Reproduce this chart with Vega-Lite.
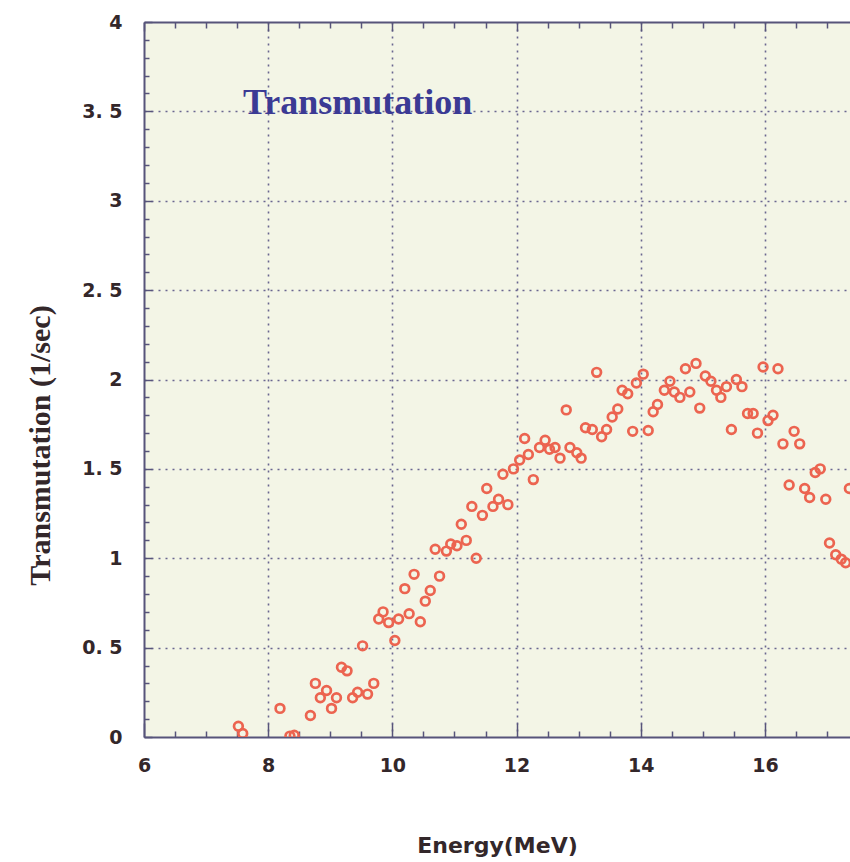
{
  "$schema": "https://vega.github.io/schema/vega-lite/v6.json",
  "autosize": {"type": "none"},
  "padding": {"left": 144, "top": 22, "right": 0, "bottom": 125},
  "width": 706,
  "height": 715,
  "background": "#ffffff",
  "title": {
    "text": "Transmutation",
    "font": "Liberation Serif",
    "fontSize": 36,
    "fontWeight": "bold",
    "color": "#3b3a94",
    "anchor": "start",
    "frame": "group",
    "orient": "top",
    "offset": 0,
    "dx": 99,
    "dy": 137,
    "baseline": "alphabetic"
  },
  "config": {
    "view": {"fill": "#f3f5e6", "stroke": null},
    "axis": {
      "domainColor": "#57547a",
      "domainWidth": 2,
      "tickColor": "#57547a",
      "tickWidth": 1.5,
      "gridColor": "#6a6690",
      "gridWidth": 1.6,
      "gridDash": [2, 5],
      "labelFont": "DejaVu Sans",
      "labelFontWeight": "bold",
      "labelFontSize": 19,
      "labelColor": "#33272a",
      "titleColor": "#33272a"
    }
  },
  "data": {
    "values": [
      {"e": 7.52, "t": 0.06}, {"e": 7.59, "t": 0.02}, {"e": 8.19, "t": 0.16},
      {"e": 8.35, "t": 0.005}, {"e": 8.42, "t": 0.01}, {"e": 8.68, "t": 0.12},
      {"e": 8.76, "t": 0.30}, {"e": 8.84, "t": 0.22}, {"e": 8.94, "t": 0.26},
      {"e": 9.02, "t": 0.16}, {"e": 9.10, "t": 0.22}, {"e": 9.18, "t": 0.39},
      {"e": 9.27, "t": 0.37}, {"e": 9.36, "t": 0.22}, {"e": 9.44, "t": 0.25},
      {"e": 9.52, "t": 0.51}, {"e": 9.60, "t": 0.24}, {"e": 9.70, "t": 0.30},
      {"e": 9.78, "t": 0.66}, {"e": 9.85, "t": 0.70}, {"e": 9.94, "t": 0.64},
      {"e": 10.04, "t": 0.54}, {"e": 10.10, "t": 0.66}, {"e": 10.20, "t": 0.83},
      {"e": 10.27, "t": 0.69}, {"e": 10.35, "t": 0.91}, {"e": 10.45, "t": 0.645},
      {"e": 10.53, "t": 0.76}, {"e": 10.61, "t": 0.82}, {"e": 10.69, "t": 1.05},
      {"e": 10.76, "t": 0.90}, {"e": 10.87, "t": 1.04}, {"e": 10.94, "t": 1.08},
      {"e": 11.04, "t": 1.07}, {"e": 11.11, "t": 1.19}, {"e": 11.19, "t": 1.10},
      {"e": 11.28, "t": 1.29}, {"e": 11.35, "t": 1.00}, {"e": 11.45, "t": 1.24},
      {"e": 11.52, "t": 1.39}, {"e": 11.62, "t": 1.29}, {"e": 11.71, "t": 1.33},
      {"e": 11.78, "t": 1.47}, {"e": 11.86, "t": 1.30}, {"e": 11.95, "t": 1.50},
      {"e": 12.05, "t": 1.55}, {"e": 12.13, "t": 1.67}, {"e": 12.19, "t": 1.58},
      {"e": 12.27, "t": 1.44}, {"e": 12.37, "t": 1.62}, {"e": 12.46, "t": 1.66},
      {"e": 12.53, "t": 1.61}, {"e": 12.62, "t": 1.62}, {"e": 12.70, "t": 1.56},
      {"e": 12.80, "t": 1.83}, {"e": 12.86, "t": 1.62}, {"e": 12.97, "t": 1.59},
      {"e": 13.04, "t": 1.56}, {"e": 13.11, "t": 1.73}, {"e": 13.22, "t": 1.72},
      {"e": 13.29, "t": 2.04}, {"e": 13.37, "t": 1.68}, {"e": 13.45, "t": 1.72},
      {"e": 13.54, "t": 1.79}, {"e": 13.63, "t": 1.835}, {"e": 13.70, "t": 1.94},
      {"e": 13.79, "t": 1.92}, {"e": 13.87, "t": 1.71}, {"e": 13.93, "t": 1.98},
      {"e": 14.04, "t": 2.03}, {"e": 14.12, "t": 1.715}, {"e": 14.20, "t": 1.82},
      {"e": 14.27, "t": 1.86}, {"e": 14.38, "t": 1.94}, {"e": 14.47, "t": 1.99},
      {"e": 14.54, "t": 1.93}, {"e": 14.63, "t": 1.90}, {"e": 14.72, "t": 2.06},
      {"e": 14.79, "t": 1.93}, {"e": 14.89, "t": 2.09}, {"e": 14.95, "t": 1.84},
      {"e": 15.04, "t": 2.02}, {"e": 15.13, "t": 1.99}, {"e": 15.22, "t": 1.94},
      {"e": 15.29, "t": 1.90}, {"e": 15.38, "t": 1.96}, {"e": 15.46, "t": 1.72},
      {"e": 15.54, "t": 2.00}, {"e": 15.63, "t": 1.96}, {"e": 15.72, "t": 1.81},
      {"e": 15.81, "t": 1.81}, {"e": 15.88, "t": 1.70}, {"e": 15.97, "t": 2.07},
      {"e": 16.05, "t": 1.77}, {"e": 16.13, "t": 1.80}, {"e": 16.21, "t": 2.06},
      {"e": 16.29, "t": 1.64}, {"e": 16.39, "t": 1.41}, {"e": 16.47, "t": 1.71},
      {"e": 16.56, "t": 1.64}, {"e": 16.64, "t": 1.39}, {"e": 16.72, "t": 1.34},
      {"e": 16.81, "t": 1.48}, {"e": 16.89, "t": 1.50}, {"e": 16.98, "t": 1.33},
      {"e": 17.04, "t": 1.085}, {"e": 17.14, "t": 1.02}, {"e": 17.23, "t": 0.995},
      {"e": 17.30, "t": 0.975}, {"e": 17.36, "t": 1.39}
    ]
  },
  "encoding": {
    "y": {
      "field": "t",
      "type": "quantitative",
      "scale": {"domain": [0, 4], "nice": false, "zero": false},
      "axis": {
        "orient": "left",
        "title": "Transmutation (1/sec)",
        "titleFont": "Liberation Serif",
        "titleFontSize": 30,
        "titleFontWeight": "bold",
        "titlePadding": 26,
        "titleY": 423,
        "values": [0, 0.1, 0.2, 0.3, 0.4, 0.5, 0.6, 0.7, 0.8, 0.9, 1, 1.1, 1.2, 1.3, 1.4, 1.5, 1.6, 1.7, 1.8, 1.9, 2, 2.1, 2.2, 2.3, 2.4, 2.5, 2.6, 2.7, 2.8, 2.9, 3, 3.1, 3.2, 3.3, 3.4, 3.5, 3.6, 3.7, 3.8, 3.9, 4],
        "labelExpr": "abs(datum.value * 2 - round(datum.value * 2)) < 0.001 ? (datum.value % 1 === 0 ? format(datum.value, 'd') : replace(format(datum.value, '.1f'), '.', '. ')) : ''",
        "labelPadding": 30,
        "tickSize": {"condition": {"test": "abs(datum.value * 2 - round(datum.value * 2)) < 0.001", "value": -8}, "value": -5},
        "grid": true,
        "gridOpacity": {"condition": {"test": "abs(datum.value * 2 - round(datum.value * 2)) < 0.001 && datum.value > 0 && datum.value < 4", "value": 1}, "value": 0}
      }
    }
  },
  "layer": [
    {
      "mark": {"type": "point", "shape": "circle", "filled": false, "stroke": "#ec6450", "strokeWidth": 2.7, "size": 76, "opacity": 1, "clip": true},
      "encoding": {
        "x": {
          "field": "e",
          "type": "quantitative",
          "scale": {"domain": [6, 17.37], "nice": false, "zero": false},
          "axis": {
            "orient": "bottom",
            "title": "Energy(MeV)",
            "titleFont": "DejaVu Sans",
            "titleFontSize": 22,
            "titleFontWeight": "bold",
            "titlePadding": 60,
            "values": [6, 6.5, 7, 7.5, 8, 8.5, 9, 9.5, 10, 10.5, 11, 11.5, 12, 12.5, 13, 13.5, 14, 14.5, 15, 15.5, 16, 16.5, 17],
            "labelExpr": "datum.value % 2 === 0 ? format(datum.value, 'd') : ''",
            "labelPadding": 33,
            "labelFlush": false,
            "tickSize": {"condition": {"test": "datum.value % 2 === 0", "value": -14}, "value": -6},
            "grid": true,
            "gridOpacity": {"condition": {"test": "datum.value % 2 === 0 && datum.value > 6", "value": 1}, "value": 0}
          }
        }
      }
    },
    {
      "mark": {"type": "point", "opacity": 0, "clip": true},
      "encoding": {
        "x": {
          "field": "e",
          "type": "quantitative",
          "scale": {"domain": [6, 17.37], "nice": false, "zero": false},
          "axis": {
            "orient": "top",
            "title": null,
            "labels": false,
            "grid": false,
            "values": [6, 6.5, 7, 7.5, 8, 8.5, 9, 9.5, 10, 10.5, 11, 11.5, 12, 12.5, 13, 13.5, 14, 14.5, 15, 15.5, 16, 16.5, 17],
            "tickSize": {"condition": {"test": "datum.value % 2 === 0", "value": -9}, "value": -6}
          }
        }
      }
    }
  ],
  "resolve": {"axis": {"x": "independent"}}
}
